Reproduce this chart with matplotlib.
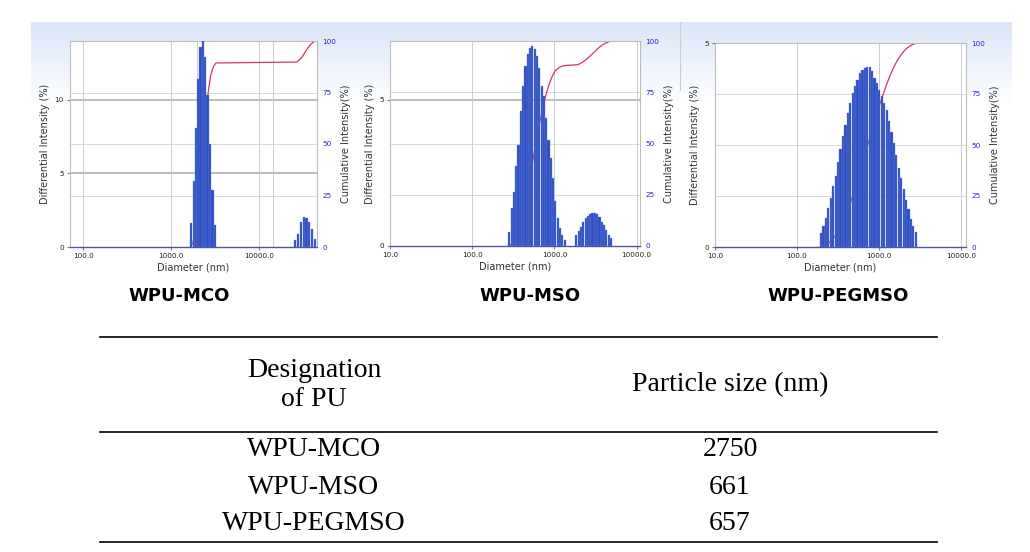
import numpy as np
import matplotlib.pyplot as plt

# diameters (nm) and differential intensity (%)
mco_d = [1706, 1814, 1928, 2050, 2161, 2297, 2442, 2596, 2760, 2960, 3150,
         25900, 27900, 30200, 32400, 34700, 37200, 40300, 43100]
mco_i = [1.6, 4.5, 8.1, 11.4, 13.6, 14.0, 12.9, 10.3, 7.0, 3.9, 1.5,
         0.45, 0.9, 1.7, 2.05, 2.0, 1.7, 1.25, 0.55]

mso_d = [283, 302, 322, 344, 366, 391, 417, 445, 474, 506, 540, 575, 614,
         655, 698, 745, 794, 847, 904, 964, 1028, 1096, 1169, 1247, 1330,
         1854, 1977, 2109, 2249, 2399, 2559, 2729, 2911, 3105, 3311, 3532,
         3767, 4018, 4285, 4571, 4875]
mso_i = [0.49, 1.31, 1.86, 2.72, 3.46, 4.6, 5.46, 6.14, 6.54, 6.77, 6.83,
         6.71, 6.48, 6.08, 5.46, 5.11, 4.37, 3.63, 3.0, 2.32, 1.52, 0.95,
         0.6, 0.38, 0.2,
         0.38, 0.51, 0.66, 0.83, 0.95, 1.04, 1.1, 1.14, 1.14, 1.1, 1.0, 0.83,
         0.72, 0.55, 0.38, 0.26]

peg_d = [197, 211, 226, 241, 259, 277, 296, 317, 340, 363, 389, 417, 446,
         477, 511, 547, 586, 627, 671, 718, 769, 823, 881, 944, 1010, 1081,
         1158, 1239, 1327, 1420, 1521, 1628, 1743, 1866, 1997, 2138, 2289,
         2450, 2623, 2808]
peg_i = [0.34, 0.52, 0.71, 0.96, 1.2, 1.49, 1.73, 2.08, 2.39, 2.71,
         3.0, 3.28, 3.53, 3.77, 3.94, 4.1, 4.26, 4.35, 4.39, 4.41,
         4.40, 4.31, 4.14, 4.02, 3.86, 3.69, 3.53, 3.37, 3.08, 2.83,
         2.55, 2.25, 1.94, 1.69, 1.41, 1.16, 0.92, 0.69, 0.51, 0.37]

names = ["WPU-MCO", "WPU-MSO", "WPU-PEGMSO"]
sizes = ["2750", "661", "657"]

W, H = 1030, 552
fig = plt.figure(figsize=(W / 100, H / 100), dpi=100)


def fx(x):
    return x / W


def fy(y):
    return 1 - y / H


# light gradient behind the screenshots
bg = fig.add_axes([0, 0, 1, 1], zorder=-5)
bg.set_xlim(0, W)
bg.set_ylim(H, 0)
bg.axis("off")
grad = np.linspace(0, 1, 100)[:, None]
top = np.array([0.86, 0.90, 0.97])
img = top[None, None, :] * (1 - grad[:, :, None]) + np.ones(3)[None, None, :] * grad[:, :, None]
img = np.repeat(img, 2, axis=1)
bg.imshow(img, extent=[31, 1012, 105, 22], aspect="auto")
bg.plot([680, 680], [22, 90], color="#c8ccd4", lw=0.8)

bar_col = "#2c4ec4"
red = "#dc3454"
blue_txt = "#2323c8"
tick_fs = 5.2
lab_fs = 7


def panel(box, d, inten, step, xlim, ymax, lticks, xticks, hgrid, vgrid):
    l, r, t, b = box
    ax = fig.add_axes([fx(l), fy(b), fx(r - l), fy(t) - fy(b)])
    ax.set_xscale("log")
    ax.set_xlim(*xlim)
    ax.set_ylim(0, ymax)
    d = np.array(d, float)
    inten = np.array(inten, float)
    lo = d * 10 ** (-step / 2 * 0.92)
    hi = d * 10 ** (step / 2 * 0.92)
    ax.bar(lo, inten, width=hi - lo, align="edge", color=bar_col,
           edgecolor="#6f86d8", linewidth=0.25, zorder=3)
    # cumulative curve, drawn on the left axis so it sits behind the bars
    cum = np.cumsum(inten) / inten.sum() * 100
    cx = np.concatenate([[lo[0]], d * 10 ** (step / 2), [xlim[1]]])
    cy = np.concatenate([[0], cum, [100]])
    ax.plot(cx, cy / 100 * ymax, color=red, lw=0.9, zorder=2)
    for v in lticks[1:]:
        if v < ymax:
            ax.axhline(v, color="#bdbdbd", lw=1.4, zorder=1)
    for v in hgrid:
        ax.axhline(v / 100 * ymax, color="#d9d9d9", lw=0.7, zorder=1)
    for v in vgrid:
        ax.axvline(v, color="#c9ccd2", lw=0.7, zorder=1)
    ax.set_yticks(lticks)
    ax.set_yticklabels([str(v) for v in lticks])
    ax.set_xticks(xticks)
    ax.set_xticklabels(["%.1f" % v for v in xticks])
    ax.minorticks_off()
    ax.tick_params(axis="y", labelsize=tick_fs, length=2.5, pad=2,
                   color="#808080", labelcolor="#222222")
    ax.tick_params(axis="x", labelsize=tick_fs, length=2, pad=2,
                   color="#808080", labelcolor="#222222")
    for s in ["left", "top", "right"]:
        ax.spines[s].set_color("#bcbcbc")
        ax.spines[s].set_linewidth(0.8)
    ax.spines["bottom"].set_color("#4b56a0")
    ax.spines["bottom"].set_linewidth(1.0)
    ax.set_ylabel("Differential Intensity (%)", fontsize=lab_fs,
                  color="#333333", labelpad=3)
    ax.set_xlabel("Diameter (nm)", fontsize=lab_fs, color="#333333",
                  labelpad=3)
    ax2 = ax.twinx()
    ax2.set_ylim(0, 100)
    ax2.set_yticks([0, 25, 50, 75, 100])
    ax2.set_yticklabels(["0", "25", "50", "75", "100"])
    ax2.tick_params(axis="y", labelsize=tick_fs, length=0, pad=4,
                    labelcolor=blue_txt)
    for s in ax2.spines.values():
        s.set_visible(False)
    ax2.set_ylabel("Cumulative Intensity(%)", fontsize=lab_fs,
                   color="#333333", labelpad=3)
    return ax


panel((70, 317, 41, 247), mco_d, mco_i, 0.0265, (71, 45700), 14,
      [0, 5, 10], [100, 1000, 10000], [25, 50, 75],
      [100, 1000, 2000, 10000, 14500])
panel((390, 640, 41, 246), mso_d, mso_i, 0.028, (10, 11000), 7,
      [0, 5], [10, 100, 1000, 10000], [25, 50, 75],
      [100, 1000, 10000])
panel((715, 966, 43, 247), peg_d, peg_i, 0.0296, (10, 11500), 5,
      [0, 5], [10, 100, 1000, 10000], [25, 50, 75],
      [100, 1000, 10000])

# panel captions
for x, n in zip([179, 530, 838], names):
    fig.text(fx(x), fy(296), n, ha="center", va="center", fontsize=13,
             fontweight="bold", family="DejaVu Sans")

# table
serif = "Liberation Serif"
tab_fs = 20
for y in [337, 432, 542]:
    bg.plot([100, 937], [y, y], color="black", lw=1.2)
bg.text(314, 385, "Designation\nof PU", ha="center", va="center",
        fontsize=tab_fs, family=serif, linespacing=1.2)
bg.text(730, 385, "Particle size (nm)", ha="center", va="center",
        fontsize=tab_fs, family=serif)
for y, n, s in zip([450, 487, 524], names, sizes):
    bg.text(314, y, n, ha="center", va="center", fontsize=tab_fs,
            family=serif)
    bg.text(730, y, s, ha="center", va="center", fontsize=tab_fs,
            family=serif)

fig.savefig("out.png", dpi=100)
